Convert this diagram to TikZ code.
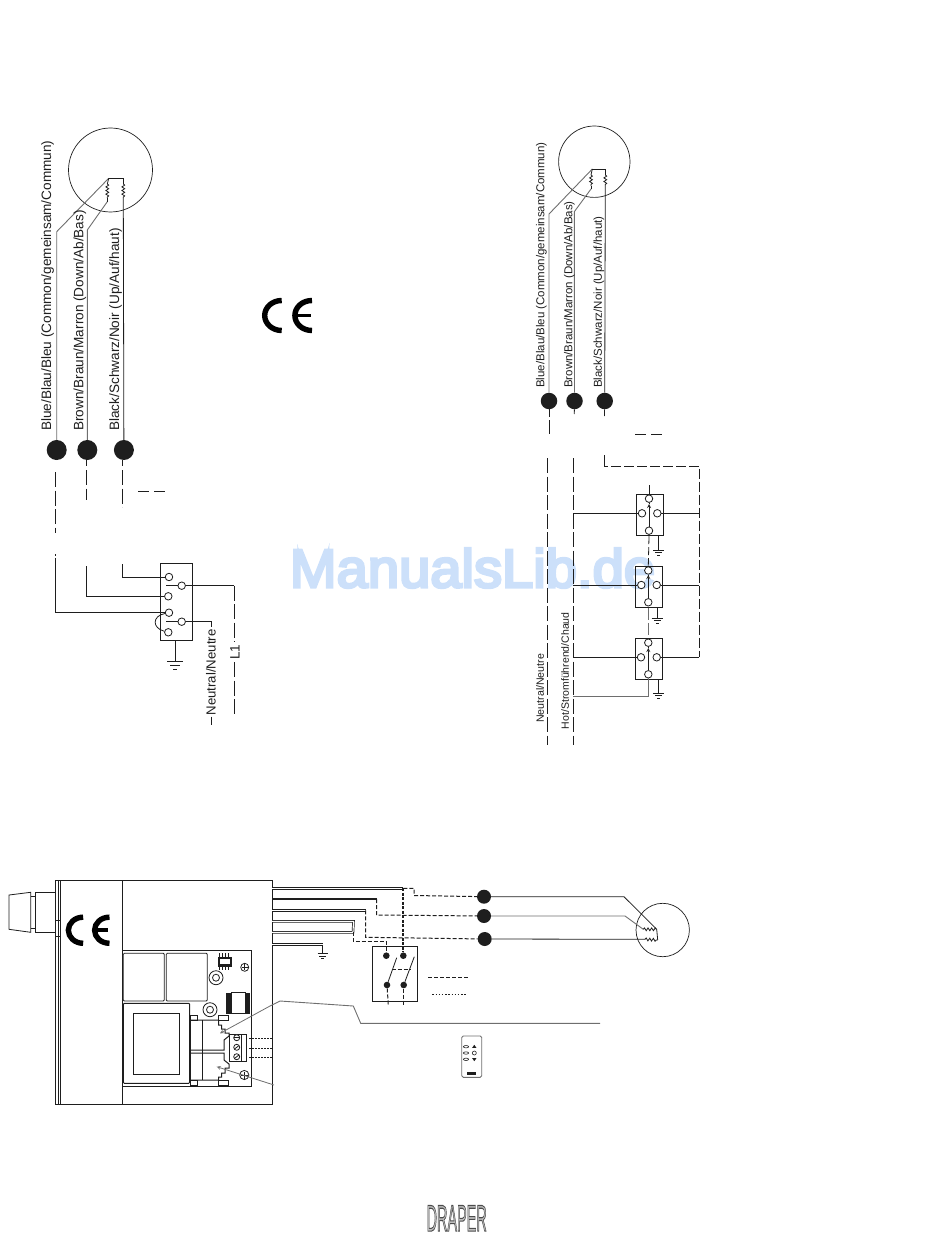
\documentclass[tikz,border=0pt]{standalone}
\usepackage{fontspec}
\setmainfont{Liberation Sans}
\usepackage{tikz}
\usetikzlibrary{arrows,shapes,positioning,decorations.pathmorphing}
\usepackage{xcolor}
\definecolor{dfink}{RGB}{30,30,30}
\definecolor{dfgrey}{RGB}{110,110,110}
\tikzstyle{wire} = [line width=0.8pt,color=dfink]
\tikzstyle{greywire} = [line width=0.9pt,color=dfgrey]
\tikzstyle{longdash} = [wire,dash pattern=on 15pt off 3.5pt]
\tikzstyle{shortdash} = [wire,line width=1pt,dash pattern=on 4pt off 2pt]
\tikzstyle{pair} = [line width=0.7pt,color=dfink,double,double distance=1.1pt]
\tikzstyle{coilwire} = [wire,decorate,decoration={snake,amplitude=1.4pt,segment length=3.6pt}]
\tikzstyle{pinarrow} = [wire,->,>=stealth]
\tikzstyle{wiredot} = [circle,fill=dfink,inner sep=0pt,minimum size=20pt]
\tikzstyle{smalldot} = [circle,fill=dfink,inner sep=0pt,minimum size=16.5pt]
\tikzstyle{pindot} = [circle,fill=dfink,inner sep=0pt,minimum size=6.6pt]
\tikzstyle{terminal} = [circle,draw=dfink,fill=white,line width=0.8pt,inner sep=0pt,minimum size=7.5pt]
\tikzstyle{motor} = [circle,draw=dfink,line width=0.7pt,inner sep=0pt]
\tikzstyle{swbox} = [rectangle,draw=dfink,line width=0.9pt,inner sep=0pt,minimum width=27.4pt,minimum height=41.4pt]
\tikzstyle{biglabel} = [rotate=90,anchor=west,inner sep=0pt,text=dfink,font=\fontsize{13.6}{15}\selectfont]
\tikzstyle{smalllabel} = [rotate=90,anchor=west,inner sep=0pt,text=dfink,font=\fontsize{11.5}{13}\selectfont]
\tikzset{
  earthsym/.pic={
    \draw[wire] (-8,0) -- (8,0);
    \draw[wire] (-5,4) -- (5,4);
    \draw[wire] (-2,8) -- (2,8);
  },
  cemark/.pic={
    \draw[line width=5.4pt,color=black] (19.7,2.5) .. controls (10,2.5) and (2.7,9.5) .. (2.7,17.5) .. controls (2.7,25.5) and (10,32.5) .. (19.7,32.5);
    \draw[line width=5.4pt,color=black] (50,2.5) .. controls (40,2.5) and (32.9,9.5) .. (32.9,17.5) .. controls (32.9,25.5) and (40,32.5) .. (50,32.5);
    \draw[line width=3.8pt,color=black] (33,17.5) -- (48.5,17.5);
  }
}

\begin{document}
\begin{tikzpicture}[x=1pt,y=-1pt]
\useasboundingbox (0,0) rectangle (950,1241);

% Watermark
\node (watermark) [inner sep=0pt,xscale=1.04,font=\fontsize{54}{56}\selectfont] at (472.5,568) {\special{pdf:code q 2 Tr 2.8 w 0.8 0.88 0.98 RG 0.8 0.88 0.98 rg}ManualsLib.de\special{pdf:code Q}};

% Left motor
\node (motorL) [motor,minimum size=84pt] at (110.5,170) {};
\node (dotLa) [wiredot] at (56.7,450) {};
\node (dotLb) [wiredot,right of=dotLa,node distance=30.6pt] {};
\node (dotLc) [wiredot,right of=dotLb,node distance=36.6pt] {};
\coordinate (barLa) at (108.7,178.3);
\coordinate (barLb) at (123.3,178.3);
\coordinate (coilLa) at (107.3,201.7);
\draw[greywire] (barLa) -- (56.7,231.7) -- (dotLa);
\draw[greywire] (coilLa) -- (87.3,230) -- (dotLb);
\draw[wire] (barLa) -- (barLb) -- (123.3,184);
\draw[coilwire] (123.3,184) -- (123.3,198);
\draw[wire] (123.3,198) -- (dotLc);
\draw[wire] (barLa) -- (107.3,184);
\draw[coilwire] (107.3,184) -- (107.3,198);
\draw[wire] (107.3,198) -- (coilLa);
\node (lblLa) [biglabel] at (47.5,431) {Blue/Blau/Bleu (Common/gemeinsam/Commun)};
\node (lblLb) [biglabel] at (79.8,431) {Brown/Braun/Marron (Down/Ab/Bas)};
\node (lblLc) [biglabel] at (115.5,431) {Black/Schwarz/Noir (Up/Auf/haut)};

% CE marks
\pic at (262,298) {cemark};
\pic[scale=0.87] at (66,915) {cemark};

% Left terminal block
\node (blockL) [rectangle,draw=dfink,line width=0.9pt,inner sep=0pt,minimum width=32.4pt,minimum height=77.4pt] at (176.5,602) {};
\node (tA) [terminal] at (169,577) {};
\node (tB) [terminal] at (181.7,585.7) {};
\node (tC) [terminal] at (168.3,596.3) {};
\node (tD) [terminal] at (169,612.7) {};
\node (tE) [terminal] at (181.7,621.7) {};
\node (tF) [terminal] at (168.3,632.3) {};
\coordinate (wireLa) at (55.3,558);
\coordinate (wireLb) at (86.5,566);
\coordinate (wireLc) at (122.3,564);
\draw[wire] (dotLa) ++(-1.4,0) -- +(0,10);
\draw[longdash] (55.3,472) -- (55.3,533);
\draw[wire] (55.3,554) -- (55.3,556);
\draw[longdash] (86.5,470) -- (86.5,500);
\draw[longdash] (122.3,470) -- (122.3,507);
\draw[wire] (86.5,460) -- (86.5,466);
\draw[wire] (122.3,460) -- (122.3,466);
\draw[wire] (wireLa) -- (wireLa |- tD) -- (tD);
\draw[wire] (wireLb) -- (wireLb |- tC) -- (tC);
\draw[wire] (wireLc) -- (wireLc |- tA) -- (tA);
\draw[wire] (166,585.7) -- (tB);
\draw[wire] (166,621.7) -- (tE);
\draw[wire] (tD) .. controls (152,616) and (152,628) .. (tF);
\draw[wire,dash pattern=on 11pt off 5pt] (138,491.7) -- (167,491.7);
\coordinate (lineOne) at (234,585.7);
\coordinate (lineNeutral) at (211,627);
\draw[wire] (tB) -- (lineOne);
\draw[longdash] (lineOne) -- (234,642);
\draw[longdash] (234,662) -- (234,714);
\node (lblLone) [rotate=90,inner sep=0pt,text=dfink,font=\fontsize{13.6}{15}\selectfont] at (235,652) {L1};
\draw[wire] (tE) -- (211,621.7) -- (lineNeutral);
\node (lblNeutralL) [biglabel,font=\fontsize{13.2}{15}\selectfont] at (211,715.5) {Neutral/Neutre};
\draw[wire] (211,716.5) -- (211,725);
\coordinate (earthL) at (175.3,661.7);
\draw[wire] (blockL.south -| earthL) -- (earthL);
\pic at (earthL) {earthsym};

% Right motor
\node (motorR) [motor,minimum size=71.4pt] at (594.3,161.7) {};
\node (dotRa) [smalldot] at (549,401) {};
\node (dotRb) [smalldot,right of=dotRa,node distance=25.5pt] {};
\node (dotRc) [smalldot,right of=dotRb,node distance=30.2pt] {};
\coordinate (barRa) at (592.3,169);
\coordinate (barRb) at (605.3,169);
\coordinate (coilRa) at (591,189);
\draw[greywire] (barRa) -- (549,214) -- (dotRa);
\draw[greywire] (coilRa) -- (574.3,211.7) -- (dotRb);
\draw[wire] (barRa) -- (barRb) -- (605.3,175);
\draw[coilwire] (605.3,175) -- (605.3,186);
\draw[wire] (605.3,186) -- (dotRc);
\draw[wire] (barRa) -- (591,175);
\draw[coilwire] (591,175) -- (591,186);
\draw[wire] (591,186) -- (coilRa);
\node (lblRa) [smalllabel] at (541.5,388) {Blue/Blau/Bleu (Common/gemeinsam/Commun)};
\node (lblRb) [smalllabel] at (569.5,388) {Brown/Braun/Marron (Down/Ab/Bas)};
\node (lblRc) [smalllabel] at (598.8,388) {Black/Schwarz/Noir (Up/Auf/haut)};
\draw[wire] (dotRa) -- (549,417);
\draw[wire] (dotRb) -- (574.3,414);
\draw[wire] (dotRc) -- (604.5,416);
\draw[wire] (549.3,420) -- (549.3,434);
\draw[wire,dash pattern=on 11pt off 5pt] (635,434) -- (662,434);

% Switch boxes
\node (swA) [swbox] at (650,515) {};
\node (swAt) [terminal] at (649,498.7) {};
\node (swAl) [terminal] at (642,513.3) {};
\node (swAr) [terminal] at (657.3,513.3) {};
\node (swAb) [terminal] at (649,530.7) {};
\node (swB) [swbox] at (649,586.7) {};
\node (swBt) [terminal] at (648.3,570.5) {};
\node (swBl) [terminal] at (641.3,585) {};
\node (swBr) [terminal] at (656.7,585) {};
\node (swBb) [terminal] at (648.3,602.3) {};
\node (swC) [swbox] at (649,658.8) {};
\node (swCt) [terminal] at (648.3,642.7) {};
\node (swCl) [terminal] at (641,657.3) {};
\node (swCr) [terminal] at (656.7,657.3) {};
\node (swCb) [terminal] at (648.3,674.3) {};
\coordinate (neutralTop) at (547.3,458);
\coordinate (neutralEnd) at (547.3,745);
\coordinate (hotTop) at (573.3,458);
\coordinate (hotEnd) at (573.3,745);
\coordinate (upperTop) at (604.3,455);
\coordinate (upperEnd) at (699.3,657.3);
\coordinate (swAin) at (649,485);
\coordinate (swAarrow) at (649,504);
\coordinate (swBarrow) at (648.3,575);
\coordinate (swCarrow) at (648.3,648);
\draw[longdash] (neutralTop) -- (neutralEnd);
\draw[longdash] (hotTop) -- (hotEnd);
\draw[wire] (upperTop) -- (604.3,466) -- (608,466);
\draw[wire,dash pattern=on 10pt off 3pt] (611,466) -- (699.3,466) -- (upperEnd);
\draw[wire] (573.3,513.3) -- (swAl);
\draw[wire] (swAr) -- (699.3,513.3);
\draw[wire] (573.3,585) -- (swBl);
\draw[wire] (swBr) -- (699.3,585);
\draw[wire] (573.3,657.3) -- (swCl);
\draw[wire] (swCr) -- (upperEnd);
\draw[wire] (swAin) -- (swAt);
\draw[pinarrow] (swAb) -- (swAarrow);
\draw[wire] (swAarrow) -- (swAt);
\draw[pinarrow] (swBb) -- (swBarrow);
\draw[wire] (swBarrow) -- (swBt);
\draw[pinarrow] (swCb) -- (swCarrow);
\draw[wire] (swCarrow) -- (swCt);
\draw[wire,dash pattern=on 8pt off 3pt] (swA.south -| swAb) -- (swB.north -| swBb);
\draw[greywire,dash pattern=on 12pt off 3pt] (swB.south -| swBb) -- (swC.north -| swCb);
\draw[greywire] (swCb) -- (648.3,696.7) -- (573.3,696.7);
\draw[wire] (642,566) -- (655,566);
\coordinate (earthA) at (658.7,550);
\coordinate (earthB) at (657.3,618);
\coordinate (earthC) at (658.7,693);
\draw[wire] (swA.south -| earthA) -- (earthA);
\draw[wire] (swB.south -| earthB) -- (earthB);
\draw[wire] (swC.south -| earthC) -- (earthC);
\pic[scale=0.7] at (earthA) {earthsym};
\pic[scale=0.7] at (earthB) {earthsym};
\pic[scale=0.7] at (earthC) {earthsym};
\node (lblNeutralR) [smalllabel,font=\fontsize{10.6}{12}\selectfont] at (540,723) {Neutral/Neutre};
\node (lblHot) [smalllabel,font=\fontsize{10.5}{12}\selectfont] at (565,729.3) {Hot/Stromführend/Chaud};

% Housing
\draw[wire,line width=1pt] (55.3,880) rectangle (272,1104.3);
\draw[wire] (58,880) -- (58,1104.3);
\draw[wire] (60.3,880) -- (60.3,1104.3);
\draw[wire,line width=1pt] (122.3,880) -- (122.3,1104.3);
\draw[wire] (35.3,892.3) rectangle (55.3,932.3);
\draw[wire] (30.7,896) -- (35.3,896);
\draw[wire] (30.7,928.3) -- (35.3,928.3);
\draw[wire] (30.7,892.3) -- (30.7,932.3) -- (9,929.3) -- (9,895) -- cycle;
\draw[wire] (55.3,920) -- (60.3,920);
\draw[wire] (55.3,936.7) -- (60.3,936.7);

% Circuit board
\draw[wire] (122.3,950) -- (251.3,950) -- (251.3,1086.7) -- (122.3,1086.7);
\draw[wire,rounded corners=1pt] (123.3,953.3) rectangle (164.3,1001);
\draw[wire,rounded corners=1pt] (166.3,953.3) rectangle (207.3,1001);
\draw[wire,line width=1pt,rounded corners=1pt] (123.3,1003.3) rectangle (189.7,1083.3);
\draw[wire] (133.3,1013.3) rectangle (179.3,1074);
\draw[wire,fill=dfink] (218,957) rectangle (231,966);
\draw[wire,fill=white] (219,958.5) rectangle (230,964.5);
\foreach \xpin in {219.5,222.5,225.5,228.5} {
  \draw[wire,line width=1pt] (\xpin,953) -- (\xpin,957);
  \draw[wire,line width=1pt] (\xpin,966) -- (\xpin,970);
}
\draw[wire] (244.7,967.3) circle (4);
\draw[wire] (241.7,967.3) -- (247.7,967.3);
\draw[wire] (244.7,964.3) -- (244.7,970.3);
\draw[wire] (244.3,1075) circle (4.6);
\draw[wire] (240.8,1075) -- (247.8,1075);
\draw[wire] (244.3,1071.5) -- (244.3,1078.5);
\draw[wire] (216,977.7) circle (7);
\draw[wire] (216,977.7) circle (3.5);
\draw[wire] (210,1009.7) circle (7);
\draw[wire] (210,1009.7) circle (3.5);
% inductor
\draw[wire,fill=dfink] (226,993) rectangle (231.7,1013);
\draw[wire,fill=dfink] (245,993) rectangle (249.3,1013);
\draw[wire] (231.7,992) rectangle (245,1013);
% jacks
\draw[wire] (190.7,1020) -- (190.7,1085);
\draw[wire] (202.3,1020) -- (202.3,1080);
\draw[wire] (190.7,1015) rectangle (197.3,1020);
\draw[wire] (218,1015) rectangle (228,1020);
\draw[wire] (190.7,1080) rectangle (197.3,1085);
\draw[wire] (218,1080) rectangle (228,1085);
\draw[wire,line width=1pt] (190.7,1020) -- (218.5,1020) -- (218.5,1025) -- (221.5,1025) -- (221.5,1029) -- (225,1029) -- (225,1033) -- (229,1033) -- (229,1036) -- (224,1040) -- (224,1050) -- (190.7,1050);
\draw[wire,line width=1pt] (190.7,1053) -- (224,1053) -- (224,1060) -- (229,1064) -- (229,1068) -- (225,1068) -- (225,1073) -- (221.5,1073) -- (221.5,1077) -- (218.5,1077) -- (218.5,1080) -- (190.7,1080);
% terminal strip
\draw[wire,line width=1pt] (229.3,1034.3) rectangle (246.7,1061);
\draw[wire,line width=1.6pt] (229.6,1034.3) -- (229.6,1061);
\draw[wire] (241.7,1034.3) -- (241.7,1061);
\node (screwA) [terminal,minimum size=6pt] at (236.7,1037.7) {};
\node (screwB) [terminal,minimum size=6pt] at (236.7,1047.3) {};
\node (screwC) [terminal,minimum size=6pt] at (236.7,1056.7) {};
\draw[wire] (233.7,1037.7) -- (239.7,1037.7);
\draw[wire] (234.5,1049) -- (238.9,1045.6);
\draw[wire] (234.5,1058.4) -- (238.9,1055);
\foreach \ydot in {1038.7,1048.7,1057} {
  \draw[wire,dash pattern=on 1.5pt off 1.5pt] (249.3,\ydot) -- (273,\ydot);
}
% leader lines
\coordinate (leadA) at (220,1033.3);
\coordinate (leadB) at (216.7,1066.7);
\coordinate (leadAend) at (600,1023.3);
\coordinate (leadBend) at (274,1085);
\draw[greywire] (leadAend) -- (360.7,1023.3) -- (353.3,1006) -- (280,1001) -- (270,1006);
\draw[pinarrow,color=dfgrey] (270,1006) -- (leadA);
\draw[pinarrow,color=dfgrey] (leadBend) -- (leadB);

% Bottom switch
\node (swD) [rectangle,draw=dfink,line width=0.9pt,inner sep=0pt,minimum width=45.4pt,minimum height=55.3pt] at (395,973.6) {};
\node (pinA) [pindot] at (386.3,955.7) {};
\node (pinB) [pindot] at (403.3,955.7) {};
\node (pinC) [pindot] at (387,985) {};
\node (pinD) [pindot] at (403.7,985) {};
\coordinate (bladeA) at (396.7,957.7);
\coordinate (bladeB) at (414.3,956.7);
\draw[wire] (pinC) -- (bladeA);
\draw[wire] (pinD) -- (bladeB);
\draw[shortdash] (391.7,969.3) -- (410,969.3);
\draw[shortdash] (pinC) -- (388.3,1005);
\draw[shortdash] (pinD) -- (403.7,1005);
\coordinate (legendAa) at (428.3,977.7);
\coordinate (legendAb) at (470,977.7);
\coordinate (legendBa) at (432.3,994);
\coordinate (legendBb) at (466.7,994);
\draw[shortdash] (legendAa) -- (legendAb);
\draw[wire,dash pattern=on 1.5pt off 1.7pt] (legendBa) -- (legendBb);

% Bottom wires
\node (dotBa) [smalldot,minimum size=14pt] at (484,896.7) {};
\node (dotBb) [smalldot,minimum size=14pt] at (484,916) {};
\node (dotBc) [smalldot,minimum size=14pt] at (484.7,939) {};
\coordinate (busA) at (403.3,888.3);
\coordinate (busB) at (376.7,899);
\coordinate (busC) at (365.7,910.3);
\coordinate (busD) at (353,932.3);
\coordinate (busE) at (322.7,944.7);
\draw[pair] (272,888.3) -- (busA);
\draw[wire,line width=1.6pt] (272,899) -- (busB);
\draw[pair] (272,910.3) -- (busC);
\draw[pair] (272,921.4) -- (353.5,921.4) -- (busD) -- (272,932.3);
\draw[pair] (272,944.7) -- (busE);
\draw[wire] (busE) -- (322.7,953.3);
\pic[scale=0.65] at (322.7,953.3) {earthsym};
\draw[shortdash] (busA) -- (414,888.3) -- (414,895.5) -- (dotBa);
\draw[shortdash,line width=2pt,dash pattern=on 3pt off 1.5pt] (busA) -- (pinB);
\draw[shortdash] (busB) -- (376.7,915) -- (dotBb);
\draw[shortdash] (busC) -- (365.7,937.3) -- (dotBc);
\draw[shortdash] (busD) -- (353,941.7) -- (386.3,941.7) -- (pinA);

% Bottom motor
\node (motorB) [motor,minimum size=53.4pt] at (662.7,930) {};
\coordinate (barBa) at (656.7,929.3);
\coordinate (barBb) at (657.7,940);
\coordinate (coilBa) at (643.3,929.3);
\coordinate (coilBb) at (645,939.3);
\draw[wire] (dotBa) -- (624,896.7) -- (barBa) -- (barBb);
\draw[greywire] (dotBb) -- (625,916) -- (coilBa);
\draw[wire] (dotBc) -- (coilBb);
\draw[coilwire] (coilBa) -- (barBa);
\draw[coilwire] (coilBb) -- (barBb);

% Remote
\draw[greywire,rounded corners=1.5pt] (461.7,1036) rectangle (481.7,1077.3);
\foreach \yrow in {1046.7,1053,1059.3} {
  \draw[wire,line width=0.6pt] (466,\yrow) ellipse (2.6 and 1.2);
}
\node (remoteUp) [isosceles triangle,shape border rotate=90,isosceles triangle apex angle=70,fill=dfink,inner sep=0pt,minimum size=3pt] at (474.3,1046.7) {};
\node (remoteStop) [circle,draw=dfink,line width=0.6pt,inner sep=0pt,minimum size=4pt] at (474.3,1053) {};
\node (remoteDown) [isosceles triangle,shape border rotate=270,isosceles triangle apex angle=70,fill=dfink,inner sep=0pt,minimum size=3pt] at (474.3,1059.3) {};
\fill[dfink] (467,1072) rectangle (476,1075.3);

% Logo
\node (logo) [inner sep=0pt,xscale=0.85,yscale=2.2,font=\fontsize{17}{18}\selectfont] at (456.7,1218.3) {\special{pdf:code q 2 Tr 0.5 w 0.3 G 0.75 g}DRAPER\special{pdf:code Q}};
\end{tikzpicture}
\end{document}
